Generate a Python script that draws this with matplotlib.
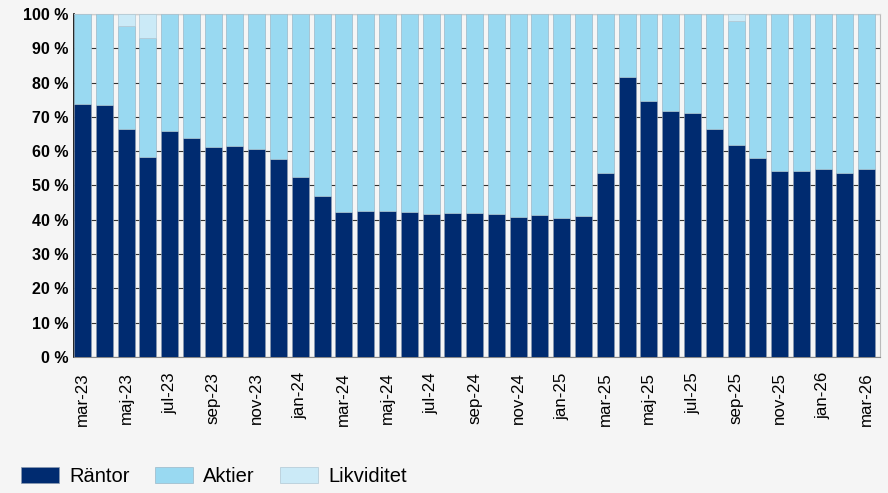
import numpy as np
import matplotlib.pyplot as plt
from matplotlib.ticker import FuncFormatter

plt.rcParams['font.family'] = ['Liberation Sans', 'DejaVu Sans']

months = ['mar-23', 'apr-23', 'maj-23', 'jun-23', 'jul-23', 'aug-23', 'sep-23', 'okt-23',
          'nov-23', 'dec-23', 'jan-24', 'feb-24', 'mar-24', 'apr-24', 'maj-24', 'jun-24',
          'jul-24', 'aug-24', 'sep-24', 'okt-24', 'nov-24', 'dec-24', 'jan-25', 'feb-25',
          'mar-25', 'apr-25', 'maj-25', 'jun-25', 'jul-25', 'aug-25', 'sep-25', 'okt-25',
          'nov-25', 'dec-25', 'jan-26', 'feb-26', 'mar-26']
rantor = [73.9, 73.6, 66.4, 58.4, 65.8, 63.8, 61.2, 61.5, 60.6, 57.6, 52.6, 46.8,
          42.4, 42.6, 42.6, 42.3, 41.8, 42.1, 42.1, 41.8, 40.9, 41.5, 40.4, 41.2,
          53.7, 81.6, 74.6, 71.7, 71.1, 66.4, 61.9, 58.1, 54.1, 54.1, 54.7, 53.6, 54.7]
likviditet = [0, 0, 3.5, 7.0, 0, 0, 0, 0, 0, 0, 0, 0,
              0, 0, 0, 0, 0, 0, 0, 0, 0, 0, 0, 0,
              0, 0, 0, 0, 0, 0, 2.1, 0, 0, 0, 0, 0, 0]
aktier = [100 - r - l for r, l in zip(rantor, likviditet)]

c_rantor = '#002b70'
c_aktier = '#99d9f1'
c_likv = '#cbeaf7'
bg = '#f5f5f5'

x = np.arange(len(months))
w = 0.78

fig = plt.figure(figsize=(8.88, 4.93), dpi=100, facecolor=bg)
ax = fig.add_axes([0.0833, 0.276, 0.9077, 0.6956], facecolor=bg)

b1 = ax.bar(x, rantor, w, color=c_rantor, edgecolor='#8a9ab0', linewidth=0.5, label='Räntor', zorder=3)
b2 = ax.bar(x, aktier, w, bottom=rantor, color=c_aktier, edgecolor='#9ab8c8', linewidth=0.5,
            label='Aktier', zorder=3)
bot2 = [r + a for r, a in zip(rantor, aktier)]
b3 = ax.bar(x, likviditet, w, bottom=bot2, color=c_likv, edgecolor='#b0c8d4', linewidth=0.5,
            label='Likviditet', zorder=3)

ax.set_ylim(0, 100)
ax.set_xlim(-w / 2, len(months) - w / 2)
ax.set_yticks(np.arange(0, 101, 10))
ax.yaxis.set_major_formatter(FuncFormatter(lambda v, p: '%d %%' % v))
ax.set_xticks(x[::2])
ax.set_xticklabels(months[::2], rotation=90)
ax.tick_params(axis='y', length=0, pad=4, labelsize=11.5)
ax.tick_params(axis='x', length=0, pad=11, labelsize=12.2)
for t in ax.get_yticklabels():
    t.set_fontweight('bold')
ax.yaxis.grid(True, color='#333333', linewidth=0.8, zorder=0)

ax.spines['left'].set_color('black')
ax.spines['left'].set_linewidth(1.2)
ax.spines['bottom'].set_color('#888888')
ax.spines['top'].set_color('#cccccc')
ax.spines['right'].set_color('#bbbbbb')

leg = fig.legend(handles=[b1, b2, b3], loc='lower left', bbox_to_anchor=(0.003, -0.022),
                 ncol=3, frameon=False, fontsize=14.5, handlelength=1.9, handleheight=0.85,
                 columnspacing=1.25, handletextpad=0.5)

fig.savefig('out.png', dpi=100, facecolor=bg)
